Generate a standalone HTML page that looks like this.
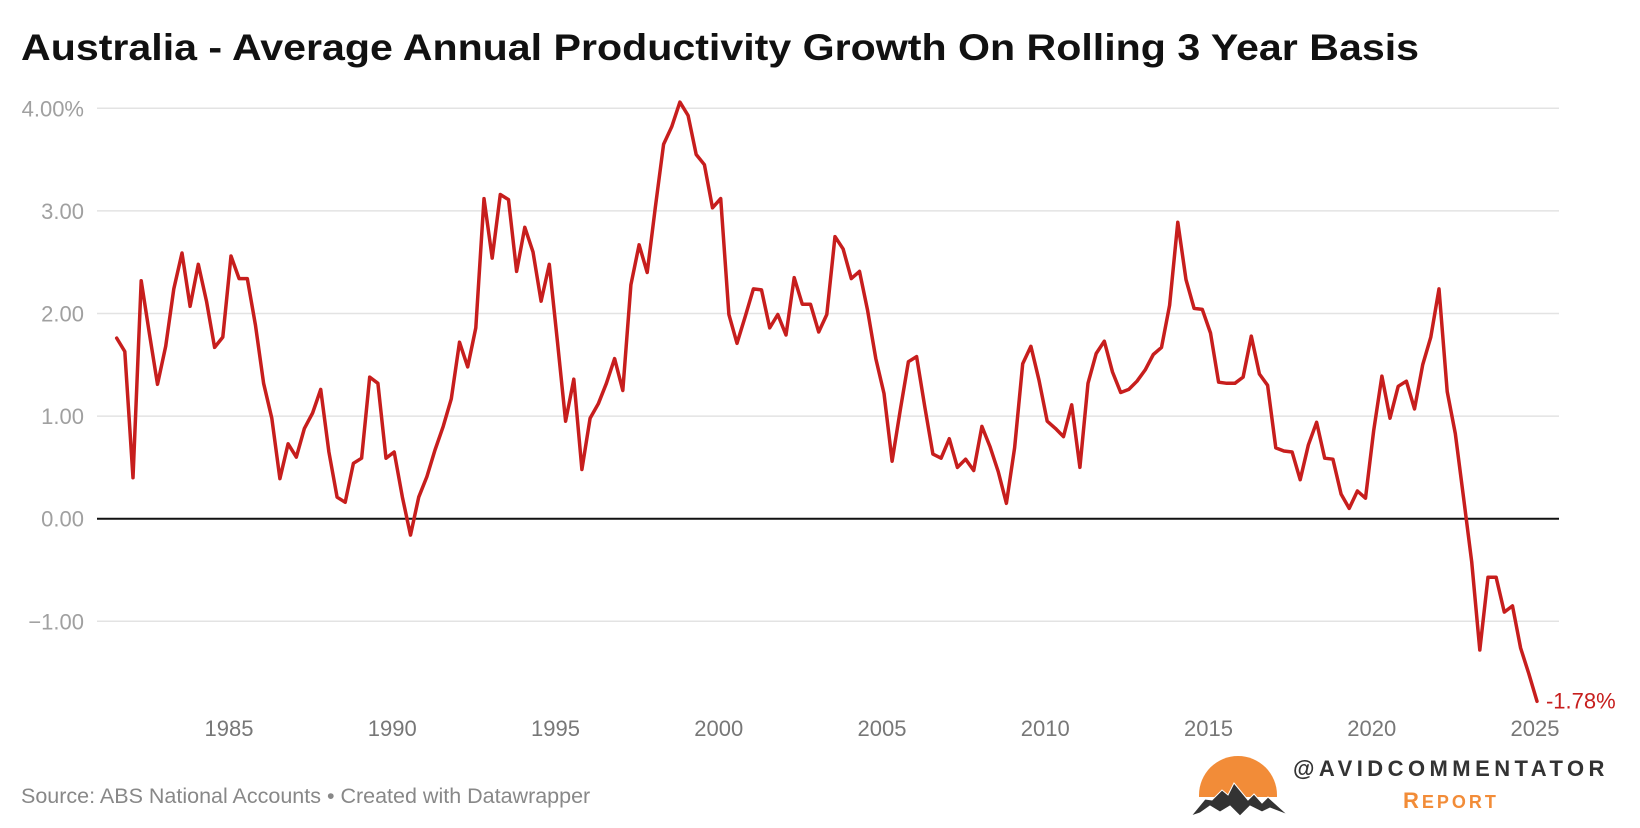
<!DOCTYPE html>
<html><head><meta charset="utf-8"><style>
html,body{margin:0;padding:0;background:#fff;}
svg{display:block;font-family:"Liberation Sans",Arial,sans-serif;}
</style></head><body>
<svg width="1640" height="828" viewBox="0 0 1640 828" id="chart">
<text x="21" y="60" font-size="37" font-weight="bold" fill="#111" textLength="1398" lengthAdjust="spacingAndGlyphs">Australia - Average Annual Productivity Growth On Rolling 3 Year Basis</text>
<g id="grid"></g>
<g id="yaxis"></g>
<g id="xaxis"></g>
<g id="series"></g>
<text x="21" y="803" font-size="21.5" fill="#888">Source: ABS National Accounts • Created with Datawrapper</text>
<g>
<clipPath id="sunclip"><rect x="1190" y="750" width="100" height="47"/></clipPath>
<circle cx="1238" cy="795" r="39" fill="#f28c38" clip-path="url(#sunclip)"/>
<path d="M1191 816 L1205 799 L1212 800 L1222 790 L1228 795 L1234 783 L1248 800 L1254 794 L1262 803 L1268 797 L1288 815 L1270 808 L1262 812 L1250 806 L1240 816 L1230 806 L1220 812 L1210 806 L1200 813 Z" fill="#333" stroke="#fff" stroke-width="1"/>
<text x="1293" y="776" font-size="22" font-weight="bold" fill="#333" letter-spacing="4.45">@AVIDCOMMENTATOR</text>
<text x="1403" y="808" font-size="22" font-weight="bold" fill="#f28c38" letter-spacing="3">R<tspan font-size="18">EPORT</tspan></text>
</g>
</svg>
<script>
const startYear = 1981.56;
const stepYears = 0.25;
const values = [1.76,1.63,0.40,2.32,1.81,1.31,1.68,2.24,2.59,2.07,2.48,2.12,1.67,1.77,2.56,2.34,2.34,1.89,1.32,0.98,0.39,0.73,0.60,0.88,1.03,1.26,0.65,0.21,0.16,0.54,0.59,1.38,1.32,0.59,0.65,
0.21,-0.16,0.21,0.41,0.67,0.90,1.17,1.72,1.48,1.86,3.12,2.54,3.16,3.11,2.41,2.84,2.60,2.12,2.48,1.72,0.95,1.36,0.48,0.98,1.12,1.32,1.56,1.25,2.28,2.67,2.40,3.04,3.65,3.82,4.06,3.93,
3.55,3.45,3.03,3.12,1.99,1.71,1.97,2.24,2.23,1.86,1.99,1.79,2.35,2.09,2.09,1.82,1.99,2.75,2.63,2.34,2.41,2.03,1.56,1.22,0.56,1.06,1.53,1.58,1.09,0.63,0.59,0.78,0.50,0.58,0.47,
0.90,0.70,0.46,0.15,0.69,1.51,1.68,1.35,0.95,0.88,0.80,1.11,0.50,1.32,1.61,1.73,1.43,1.23,1.26,1.34,1.45,1.60,1.67,2.08,2.89,2.33,2.05,2.04,1.81,1.33,1.32,1.32,1.38,1.78,1.41,1.30,
0.69,0.66,0.65,0.38,0.72,0.94,0.59,0.58,0.24,0.10,0.27,0.20,0.86,1.39,0.98,1.29,1.34,1.07,1.50,1.77,2.24,1.24,0.83,0.21,-0.42,-1.28,-0.57,-0.57,-0.91,-0.85,-1.26,-1.51,-1.78];
const yTicks = [4,3,2,1,0,-1];
const yTickLabels = ["4.00%","3.00","2.00","1.00","0.00","\u22121.00"];
const xTicks = [1985,1990,1995,2000,2005,2010,2015,2020,2025];
const endLabel = "-1.78%";

const NS = "http://www.w3.org/2000/svg";
const plotL = 97, plotR = 1559;
function xs(t){ return 229 + (t - 1985) * 32.65; }
function ys(v){ return 518.7 - v * 102.6; }
function mk(tag, attrs, parent){ const e = document.createElementNS(NS, tag); for (const k in attrs) e.setAttribute(k, attrs[k]); parent.appendChild(e); return e; }

const grid = document.getElementById('grid'), yax = document.getElementById('yaxis'), xax = document.getElementById('xaxis'), ser = document.getElementById('series');
yTicks.forEach((v, i) => {
  const ln = mk('line', {x1: plotL, x2: plotR, y1: ys(v), y2: ys(v), stroke: v === 0 ? '#111' : '#e3e3e3', 'stroke-width': v === 0 ? 2 : 1.5}, grid);
  
  
  const t = mk('text', {x: 84, y: ys(v) + 8, 'text-anchor': 'end', 'font-size': 22, fill: '#a0a0a0'}, yax);
  t.textContent = yTickLabels[i];
  
  
});
xTicks.forEach(yr => {
  const t = mk('text', {x: xs(yr), y: 736, 'text-anchor': 'middle', 'font-size': 22, fill: '#777'}, xax);
  t.textContent = String(yr);
  
  
});
const pts = values.map((v, i) => xs(startYear + i * stepYears).toFixed(1) + ',' + ys(v).toFixed(1));
const pl = mk('polyline', {points: pts.join(' '), fill: 'none', stroke: '#c71e1d', 'stroke-width': 3.5, 'stroke-linejoin': 'round', 'stroke-linecap': 'round'}, ser);


const lastV = values[values.length - 1];
const lastX = xs(startYear + (values.length - 1) * stepYears);
const lbl = mk('text', {x: lastX + 9, y: ys(lastV) + 7, 'font-size': 22, fill: '#c71e1d'}, ser);
lbl.textContent = endLabel;


</script>
</body></html>
